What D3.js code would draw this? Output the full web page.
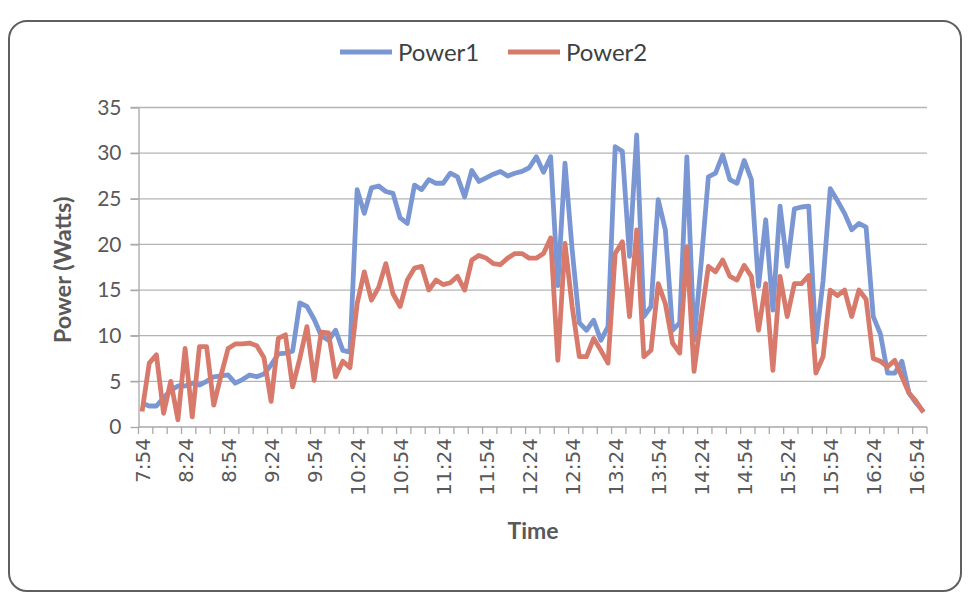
<!DOCTYPE html>
<html>
<head>
<meta charset="utf-8">
<script src="https://cdn.jsdelivr.net/npm/d3@7"></script>
<style>
  body { margin: 0; background: #fff; }
  svg text { font-family: Lato, "Open Sans", sans-serif; }
</style>
</head>
<body>
<svg id="chart" width="969" height="597"></svg>
<script>
// Sample times, one every five minutes
const categories = [
  "7:54","7:59",
  "8:04","8:09","8:14","8:19","8:24","8:29","8:34","8:39","8:44","8:49","8:54","8:59",
  "9:04","9:09","9:14","9:19","9:24","9:29","9:34","9:39","9:44","9:49","9:54","9:59",
  "10:04","10:09","10:14","10:19","10:24","10:29","10:34","10:39","10:44","10:49","10:54","10:59",
  "11:04","11:09","11:14","11:19","11:24","11:29","11:34","11:39","11:44","11:49","11:54","11:59",
  "12:04","12:09","12:14","12:19","12:24","12:29","12:34","12:39","12:44","12:49","12:54","12:59",
  "13:04","13:09","13:14","13:19","13:24","13:29","13:34","13:39","13:44","13:49","13:54","13:59",
  "14:04","14:09","14:14","14:19","14:24","14:29","14:34","14:39","14:44","14:49","14:54","14:59",
  "15:04","15:09","15:14","15:19","15:24","15:29","15:34","15:39","15:44","15:49","15:54","15:59",
  "16:04","16:09","16:14","16:19","16:24","16:29","16:34","16:39","16:44","16:49","16:54","16:59"
];

// Labelled times on the category axis
const tickLabels = ["7:54","8:24","8:54","9:24","9:54","10:24","10:54","11:24","11:54",
  "12:24","12:54","13:24","13:54","14:24","14:54","15:24","15:54","16:24","16:54"];

// Power readings (Watts)
const power1 = [
  2.6, 2.3, 2.3, 3.2, 4.0, 4.5, 4.5, 4.8, 4.6, 5.0,
  5.5, 5.6, 5.7, 4.8, 5.2, 5.7, 5.5, 5.8, 6.8, 8.0,
  8.1, 8.3, 13.6, 13.2, 11.8, 10.0, 9.5, 10.6, 8.4, 8.2,
  26.0, 23.4, 26.2, 26.4, 25.8, 25.6, 22.9, 22.3, 26.5, 26.0,
  27.1, 26.7, 26.7, 27.8, 27.4, 25.2, 28.1, 26.9, 27.3, 27.7,
  28.0, 27.5, 27.8, 28.0, 28.4, 29.6, 27.9, 29.6, 15.5, 28.9,
  19.4, 11.4, 10.6, 11.7, 9.5, 11.0, 30.7, 30.2, 18.7, 32.0,
  12.1, 13.2, 24.9, 21.6, 10.6, 11.4, 29.6, 9.5, 18.0, 27.4,
  27.8, 29.8, 27.1, 26.7, 29.2, 27.1, 15.4, 22.7, 12.8, 24.2,
  17.6, 23.9, 24.1, 24.2, 9.3, 16.0, 26.1, 24.8, 23.4, 21.6,
  22.3, 21.9, 12.1, 10.2, 5.9, 5.9, 7.2, 3.7, 2.6, 1.7
];

const power2 = [
  1.7, 7.0, 7.9, 1.5, 5.0, 0.8, 8.6, 1.1, 8.8, 8.8,
  2.4, 5.6, 8.6, 9.1, 9.1, 9.2, 8.9, 7.6, 2.8, 9.7,
  10.1, 4.4, 7.5, 11.0, 5.1, 10.4, 10.3, 5.5, 7.2, 6.5,
  13.5, 17.0, 13.9, 15.3, 17.9, 14.6, 13.2, 16.1, 17.4, 17.6,
  15.0, 16.1, 15.6, 15.8, 16.5, 15.0, 18.3, 18.8, 18.5, 17.9,
  17.8, 18.5, 19.0, 19.0, 18.5, 18.5, 19.0, 20.7, 7.3, 20.1,
  13.2, 7.7, 7.7, 9.7, 8.4, 7.0, 19.0, 20.3, 12.1, 21.6,
  7.7, 8.4, 15.7, 13.5, 9.2, 8.1, 19.7, 6.1, 12.0, 17.6,
  17.0, 18.3, 16.5, 16.1, 17.7, 16.5, 10.6, 15.7, 6.2, 16.5,
  12.1, 15.7, 15.7, 16.6, 5.9, 7.7, 15.0, 14.4, 15.0, 12.1,
  15.0, 14.0, 7.5, 7.2, 6.6, 7.3, 5.5, 3.7, 2.8, 1.6
];

const yTicks = [0, 5, 10, 15, 20, 25, 30, 35];

const seriesNames = ["Power1", "Power2"];
const seriesColors = ["#7b97d3", "#d77a6c"];

const svg = d3.select("#chart");
const textColor = "#595959";

// Chart frame
svg.append("rect")
  .attr("x", 9).attr("y", 21)
  .attr("width", 952).attr("height", 570)
  .attr("rx", 18).attr("ry", 18)
  .attr("fill", "#fff")
  .attr("stroke", "#5f5f5f")
  .attr("stroke-width", 2);

const plot = { left: 138.5, right: 927, top: 107.5, bottom: 427 };

const x = d3.scalePoint()
  .domain(categories)
  .range([plot.left, plot.right])
  .padding(0.5);

const y = d3.scaleLinear()
  .domain([0, 35])
  .range([plot.bottom, plot.top]);

// Horizontal gridlines
svg.append("g")
  .selectAll("line")
  .data(yTicks.filter(d => d > 0))
  .join("line")
  .attr("x1", plot.left - 8).attr("x2", plot.right)
  .attr("y1", d => y(d)).attr("y2", d => y(d))
  .attr("stroke", "#b4b4b4")
  .attr("stroke-width", 1.3);

// Value axis
const yAxis = svg.append("g")
  .attr("transform", `translate(${plot.left},0)`)
  .call(d3.axisLeft(y).tickValues(yTicks).tickSize(8).tickSizeOuter(0).tickPadding(9));
yAxis.select(".domain").attr("stroke", "#a8a8a8").attr("stroke-width", 1.3);
yAxis.selectAll(".tick line").attr("stroke", "#a8a8a8").attr("stroke-width", 1.3);
yAxis.selectAll(".tick text")
  .attr("fill", textColor)
  .style("font-size", "21px");

// Category axis: line, tick marks every two samples, labels every six
const xAxisG = svg.append("g").attr("transform", `translate(0,${plot.bottom})`);
xAxisG.append("line")
  .attr("x1", plot.left).attr("x2", plot.right)
  .attr("y1", 0).attr("y2", 0)
  .attr("stroke", "#a8a8a8").attr("stroke-width", 1.3);
const boundaries = d3.range(0, categories.length + 1, 2).map(i => plot.left + i * x.step());
xAxisG.selectAll("line.tick-mark")
  .data(boundaries)
  .join("line")
  .attr("class", "tick-mark")
  .attr("x1", d => d).attr("x2", d => d)
  .attr("y1", 0).attr("y2", 7)
  .attr("stroke", "#a8a8a8").attr("stroke-width", 1.3);

const xLabels = svg.append("g")
  .attr("transform", `translate(0,${plot.bottom})`)
  .call(d3.axisBottom(x).tickValues(tickLabels).tickSize(0));
xLabels.select(".domain").remove();
xLabels.selectAll(".tick text")
  .attr("transform", "rotate(-90)")
  .attr("x", -11)
  .attr("y", 0)
  .attr("dy", "0.36em")
  .style("text-anchor", "end")
  .style("font-family", "'DejaVu Sans', Verdana, sans-serif")
  .style("font-size", "20px")
  .attr("fill", textColor);

// Series lines
const line = d3.line()
  .x((d, i) => x(categories[i]))
  .y(d => y(d));

[power1, power2].forEach((values, k) => {
  svg.append("path")
    .datum(values)
    .attr("d", line)
    .attr("fill", "none")
    .attr("stroke", seriesColors[k])
    .attr("stroke-width", 4.8)
    .attr("stroke-linejoin", "round")
    .attr("stroke-linecap", "butt");
});

// Axis titles
svg.append("text")
  .attr("transform", "translate(71,270) rotate(-90)")
  .attr("text-anchor", "middle")
  .attr("fill", textColor)
  .style("font-size", "23.5px")
  .style("font-weight", "bold")
  .text("Power (Watts)");

svg.append("text")
  .attr("x", 533).attr("y", 539)
  .attr("text-anchor", "middle")
  .attr("fill", textColor)
  .style("font-size", "23px")
  .style("font-weight", "bold")
  .text("Time");

// Legend
const legendItems = [
  { name: seriesNames[0], color: seriesColors[0], x: 340 },
  { name: seriesNames[1], color: seriesColors[1], x: 508 }
];
const legend = svg.append("g");
legend.selectAll("line")
  .data(legendItems)
  .join("line")
  .attr("x1", d => d.x).attr("x2", d => d.x + 52)
  .attr("y1", 52).attr("y2", 52)
  .attr("stroke", d => d.color)
  .attr("stroke-width", 5);
legend.selectAll("text")
  .data(legendItems)
  .join("text")
  .attr("x", d => d.x + 58)
  .attr("y", 61)
  .attr("fill", "#404040")
  .style("font-size", "24px")
  .text(d => d.name);
</script>
</body>
</html>
